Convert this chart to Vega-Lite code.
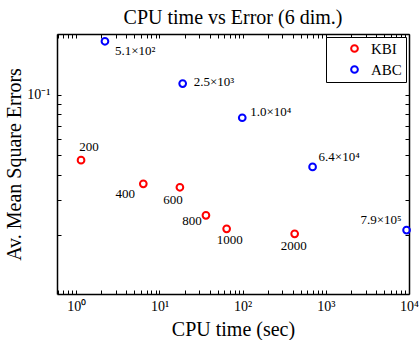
{
  "$schema": "https://vega.github.io/schema/vega-lite/v6.json",
  "width": 352,
  "height": 260,
  "autosize": {"type": "none"},
  "padding": {"left": 57, "top": 34, "right": 10, "bottom": 46},
  "title": {"text": "CPU time vs Error (6 dim.)", "font": "Liberation Serif", "fontSize": 20, "fontWeight": "normal", "color": "black", "offset": -1},
  "config": {
    "view": {"stroke": null},
    "axis": {"grid": false, "domainColor": "black", "domainWidth": 1.5, "tickColor": "black", "tickWidth": 1, "tickSize": -4,
      "labelFont": "Liberation Serif", "labelFontSize": 14, "labelColor": "black",
      "titleFont": "Liberation Serif", "titleFontSize": 20, "titleFontWeight": "normal", "titleColor": "black",
      "labelOverlap": false, "labelFlush": false, "labelBound": false},
    "legend": {"orient": "top-right", "offset": 3, "strokeColor": "black", "strokeWidth": 1, "fillColor": "white",
      "padding": 4, "symbolOffset": 17, "labelOffset": 9, "rowPadding": 5,
      "labelFont": "Liberation Serif", "labelFontSize": 15, "labelColor": "black",
      "symbolStrokeWidth": 2, "symbolSize": 45, "symbolType": "circle"}
  },
  "datasets": {
    "pts": [
      {"method": "KBI", "time": 1.14, "error": 0.0472, "label": "200"},
      {"method": "KBI", "time": 6.39, "error": 0.036, "label": "400"},
      {"method": "KBI", "time": 17.6, "error": 0.0346, "label": "600"},
      {"method": "KBI", "time": 36.2, "error": 0.0251, "label": "800"},
      {"method": "KBI", "time": 64.2, "error": 0.0215, "label": "1000"},
      {"method": "KBI", "time": 422, "error": 0.0203, "label": "2000"},
      {"method": "ABC", "time": 2.21, "error": 0.184, "label": "5.1×10²"},
      {"method": "ABC", "time": 19.0, "error": 0.1134, "label": "2.5×10³"},
      {"method": "ABC", "time": 98.9, "error": 0.0767, "label": "1.0×10⁴"},
      {"method": "ABC", "time": 693, "error": 0.0437, "label": "6.4×10⁴"},
      {"method": "ABC", "time": 9350, "error": 0.0212, "label": "7.9×10⁵"}
    ]
  },
  "data": {"name": "pts"},
  "layer": [
    {
      "mark": {"type": "point", "shape": "circle", "filled": false, "strokeWidth": 2, "size": 45, "opacity": 1},
      "encoding": {
        "x": {"field": "time", "type": "quantitative",
          "scale": {"type": "log", "domain": [0.586, 10000], "nice": false},
          "axis": {"orient": "bottom", "title": "CPU time (sec)", "titlePadding": 6, "labelPadding": 9,
            "values": [0.6,0.7,0.8,0.9,1,2,3,4,5,6,7,8,9,10,20,30,40,50,60,70,80,90,100,200,300,400,500,600,700,800,900,1000,2000,3000,4000,5000,6000,7000,8000,9000,10000],
            "labelExpr": "abs(log(datum.value)/LN10 - round(log(datum.value)/LN10)) < 1e-6 ? '10' + ['⁰','¹','²','³','⁴'][round(log(datum.value)/LN10)] : ''"}},
        "y": {"field": "error", "type": "quantitative",
          "scale": {"type": "log", "domain": [0.0102, 0.2], "nice": false},
          "axis": {"orient": "left", "title": "Av. Mean Square Errors", "titlePadding": 2, "labelPadding": 11,
            "values": [0.02,0.03,0.04,0.05,0.06,0.07,0.08,0.09,0.1,0.2],
            "labelExpr": "datum.value == 0.1 ? '10⁻¹' : ''"}},
        "color": {"field": "method", "type": "nominal",
          "scale": {"domain": ["KBI", "ABC"], "range": ["#ff0000", "#0000ff"]},
          "legend": {"title": null}}
      }
    },
    {
      "mark": {"type": "point", "opacity": 0},
      "encoding": {
        "x": {"field": "time", "type": "quantitative",
          "axis": {"orient": "top", "title": null, "labels": false,
            "values": [0.6,0.7,0.8,0.9,1,2,3,4,5,6,7,8,9,10,20,30,40,50,60,70,80,90,100,200,300,400,500,600,700,800,900,1000,2000,3000,4000,5000,6000,7000,8000,9000,10000]}},
        "y": {"field": "error", "type": "quantitative",
          "axis": {"orient": "right", "title": null, "labels": false,
            "values": [0.02,0.03,0.04,0.05,0.06,0.07,0.08,0.09,0.1,0.2]}}
      }
    },
    {"transform": [{"filter": "datum.label == '200'"}],
     "mark": {"type": "text", "font": "Liberation Serif", "fontSize": 13, "color": "black", "align": "center", "baseline": "middle", "dx": 8, "dy": -13},
     "encoding": {"x": {"field": "time", "type": "quantitative", "axis": null}, "y": {"field": "error", "type": "quantitative", "axis": null}, "text": {"field": "label"}}},
    {"transform": [{"filter": "datum.label == '400'"}],
     "mark": {"type": "text", "font": "Liberation Serif", "fontSize": 13, "color": "black", "align": "center", "baseline": "middle", "dx": -18, "dy": 10},
     "encoding": {"x": {"field": "time", "type": "quantitative", "axis": null}, "y": {"field": "error", "type": "quantitative", "axis": null}, "text": {"field": "label"}}},
    {"transform": [{"filter": "datum.label == '600'"}],
     "mark": {"type": "text", "font": "Liberation Serif", "fontSize": 13, "color": "black", "align": "center", "baseline": "middle", "dx": -7, "dy": 13},
     "encoding": {"x": {"field": "time", "type": "quantitative", "axis": null}, "y": {"field": "error", "type": "quantitative", "axis": null}, "text": {"field": "label"}}},
    {"transform": [{"filter": "datum.label == '800'"}],
     "mark": {"type": "text", "font": "Liberation Serif", "fontSize": 13, "color": "black", "align": "center", "baseline": "middle", "dx": -14, "dy": 6},
     "encoding": {"x": {"field": "time", "type": "quantitative", "axis": null}, "y": {"field": "error", "type": "quantitative", "axis": null}, "text": {"field": "label"}}},
    {"transform": [{"filter": "datum.label == '1000'"}],
     "mark": {"type": "text", "font": "Liberation Serif", "fontSize": 13, "color": "black", "align": "center", "baseline": "middle", "dx": 3, "dy": 11},
     "encoding": {"x": {"field": "time", "type": "quantitative", "axis": null}, "y": {"field": "error", "type": "quantitative", "axis": null}, "text": {"field": "label"}}},
    {"transform": [{"filter": "datum.label == '2000'"}],
     "mark": {"type": "text", "font": "Liberation Serif", "fontSize": 13, "color": "black", "align": "center", "baseline": "middle", "dx": -1, "dy": 12},
     "encoding": {"x": {"field": "time", "type": "quantitative", "axis": null}, "y": {"field": "error", "type": "quantitative", "axis": null}, "text": {"field": "label"}}},
    {"transform": [{"filter": "datum.label == '5.1×10²'"}],
     "mark": {"type": "text", "font": "Liberation Serif", "fontSize": 13, "color": "black", "align": "left", "baseline": "middle", "dx": 10, "dy": 10},
     "encoding": {"x": {"field": "time", "type": "quantitative", "axis": null}, "y": {"field": "error", "type": "quantitative", "axis": null}, "text": {"field": "label"}}},
    {"transform": [{"filter": "datum.label == '2.5×10³'"}],
     "mark": {"type": "text", "font": "Liberation Serif", "fontSize": 13, "color": "black", "align": "left", "baseline": "middle", "dx": 11, "dy": -2},
     "encoding": {"x": {"field": "time", "type": "quantitative", "axis": null}, "y": {"field": "error", "type": "quantitative", "axis": null}, "text": {"field": "label"}}},
    {"transform": [{"filter": "datum.label == '1.0×10⁴'"}],
     "mark": {"type": "text", "font": "Liberation Serif", "fontSize": 13, "color": "black", "align": "left", "baseline": "middle", "dx": 8, "dy": -6},
     "encoding": {"x": {"field": "time", "type": "quantitative", "axis": null}, "y": {"field": "error", "type": "quantitative", "axis": null}, "text": {"field": "label"}}},
    {"transform": [{"filter": "datum.label == '6.4×10⁴'"}],
     "mark": {"type": "text", "font": "Liberation Serif", "fontSize": 13, "color": "black", "align": "left", "baseline": "middle", "dx": 6, "dy": -10},
     "encoding": {"x": {"field": "time", "type": "quantitative", "axis": null}, "y": {"field": "error", "type": "quantitative", "axis": null}, "text": {"field": "label"}}},
    {"transform": [{"filter": "datum.label == '7.9×10⁵'"}],
     "mark": {"type": "text", "font": "Liberation Serif", "fontSize": 13, "color": "black", "align": "right", "baseline": "middle", "dx": -5, "dy": -10},
     "encoding": {"x": {"field": "time", "type": "quantitative", "axis": null}, "y": {"field": "error", "type": "quantitative", "axis": null}, "text": {"field": "label"}}}
  ],
  "resolve": {"axis": {"x": "independent", "y": "independent"}}
}
